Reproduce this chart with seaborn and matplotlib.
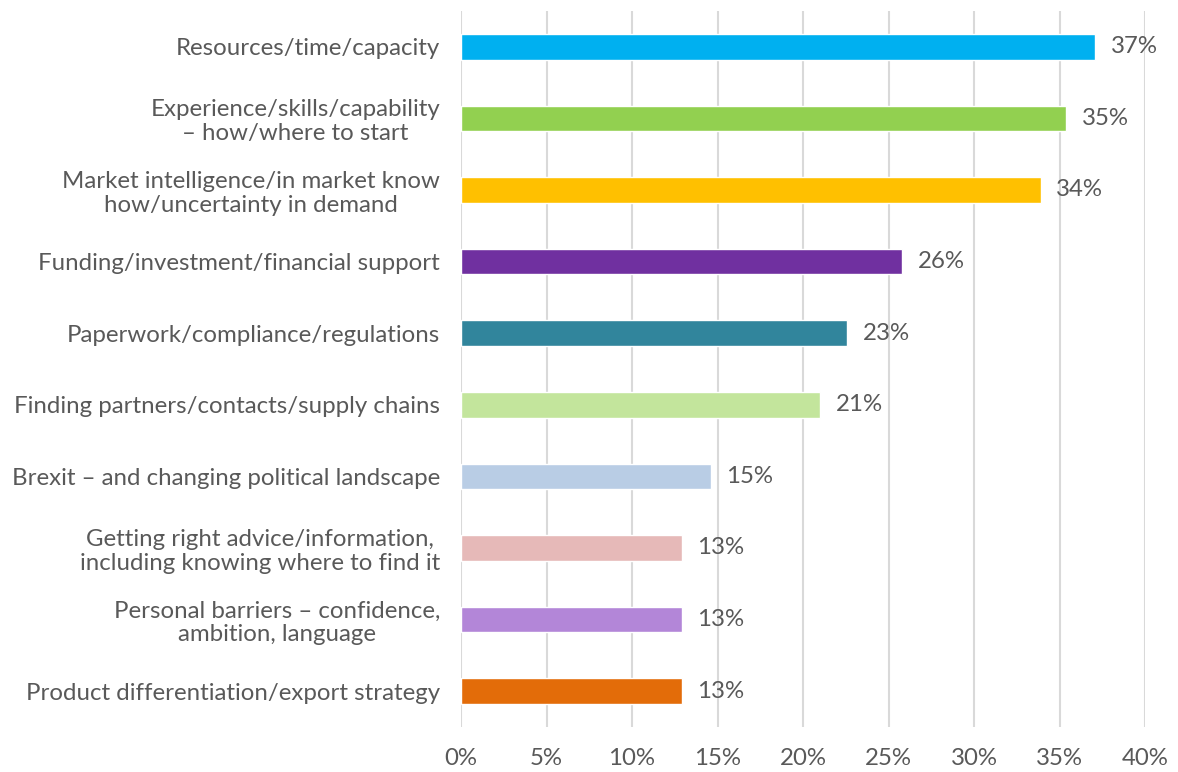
import matplotlib
matplotlib.use("Agg")
import matplotlib.pyplot as plt
import seaborn as sns
import pandas as pd
from matplotlib.ticker import FuncFormatter, MultipleLocator

categories = [
    "Resources/time/capacity",
    "Experience/skills/capability\n– how/where to start",
    "Market intelligence/in market know\nhow/uncertainty in demand",
    "Funding/investment/financial support",
    "Paperwork/compliance/regulations",
    "Finding partners/contacts/supply chains",
    "Brexit – and changing political landscape",
    "Getting right advice/information,\nincluding knowing where to find it",
    "Personal barriers – confidence,\nambition, language",
    "Product differentiation/export strategy",
]
shares = [37.1, 35.4, 33.9, 25.8, 22.6, 21.0, 14.6, 12.9, 12.9, 12.9]
bar_colors = [
    "#00B0F0", "#92D050", "#FFC000", "#7030A0", "#31859C",
    "#C3E59C", "#B9CDE5", "#E6B9B8", "#B386D8", "#E36C09",
]

df = pd.DataFrame({"barrier": categories, "share": shares})

sns.set_theme(style="white")
plt.rcParams["font.family"] = ["Lato", "DejaVu Sans"]
text_color = "#595959"
label_size = 17.3

fig = plt.figure(figsize=(11.78, 7.72), dpi=100)
ax = fig.add_axes([461 / 1178, 1 - 727 / 772, (1145 - 461) / 1178, (727 - 11) / 772])

sns.barplot(data=df, x="share", y="barrier", hue="barrier", palette=bar_colors,
            legend=False, width=0.36, saturation=1, ax=ax)

ax.set_xlim(0, 40)
ax.xaxis.set_major_locator(MultipleLocator(5))
ax.xaxis.set_major_formatter(FuncFormatter(lambda v, p: f"{v:.0f}%"))
ax.grid(axis="x", color="#D9D9D9", linewidth=1.5)
ax.set_axisbelow(True)
for s in ax.spines.values():
    s.set_visible(False)
ax.set_xlabel("")
ax.set_ylabel("")
ax.tick_params(axis="x", length=0, pad=15, labelsize=label_size, labelcolor=text_color)
ax.tick_params(axis="y", length=0, pad=15, labelsize=label_size, labelcolor=text_color)
for lab in ax.get_yticklabels():
    lab.set_horizontalalignment("right")
    lab.set_multialignment("center")
    lab.set_linespacing(1.15)

for patch, v in zip(ax.patches, shares):
    y = patch.get_y() + patch.get_height() / 2
    ax.annotate(f"{v:.0f}%", xy=(patch.get_width(), y), xytext=(11, 0),
                textcoords="offset points", va="center", ha="left",
                fontsize=label_size, color=text_color)

fig.savefig("out.png", dpi=100)
